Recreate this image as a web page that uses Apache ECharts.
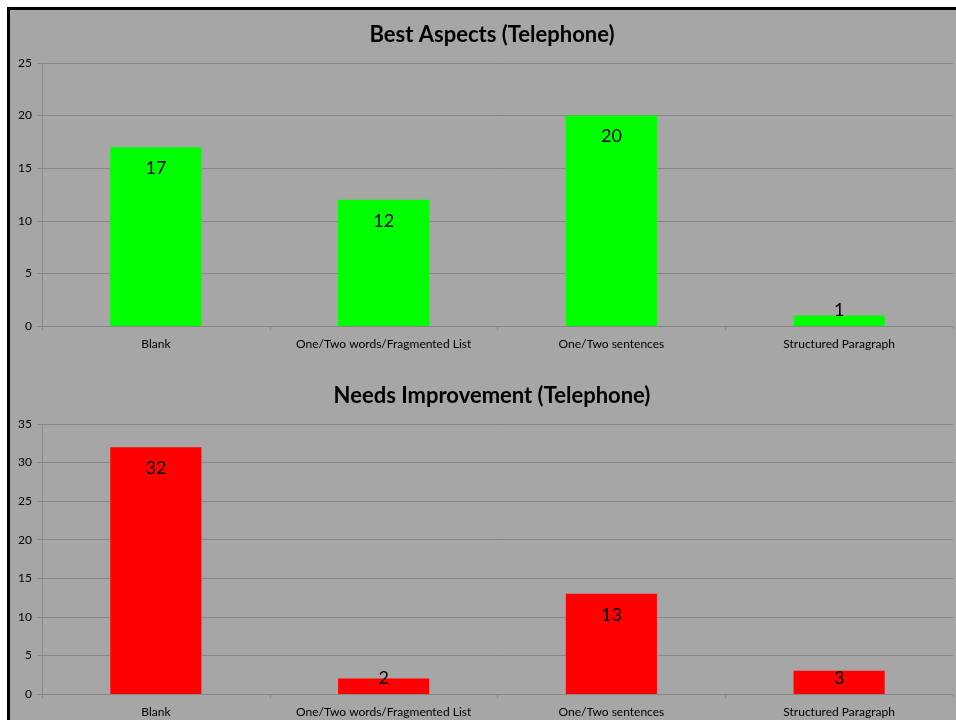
<!DOCTYPE html>
<html>
<head>
<meta charset="utf-8">
<script src="https://cdn.jsdelivr.net/npm/echarts@6/dist/echarts.min.js"></script>
<style>
  html, body { margin: 0; padding: 0; background: #ffffff; width: 956px; height: 720px; overflow: hidden; }
  #frame { position: absolute; left: 7px; top: 7px; width: 960px; height: 720px; background: #a6a6a6; border-left: 3px solid #000; border-top: 3px solid #000; }
  #chart { position: absolute; left: 0; top: 0; width: 956px; height: 720px; }
</style>
</head>
<body>
<div id="frame"></div>
<div id="chart"></div>
<script>
const categories = ["Blank", "One/Two words/Fragmented List", "One/Two sentences", "Structured Paragraph"];
const bestAspects = [17, 12, 20, 1];
const needsImprovement = [32, 2, 13, 3];
const titles = ["Best Aspects (Telephone)", "Needs Improvement (Telephone)"];

const FONT = "Lato, 'Open Sans', sans-serif";
const gridColor = "#878787";

function items(vals) {
  return vals.map(v => ({
    value: v,
    label: v < 4 ? { position: "insideBottom", distance: 7 } : { position: "insideTop", distance: 12 }
  }));
}

function xAxis(gi) {
  return {
    type: "category", gridIndex: gi, data: categories,
    axisLine: { lineStyle: { color: gridColor, width: 1 } },
    axisTick: { show: true, interval: 0, length: 4, lineStyle: { color: gridColor } },
    axisLabel: { interval: 0, color: "#000", fontSize: 12, fontFamily: FONT, margin: 12 }
  };
}
function yAxis(gi, max) {
  return {
    type: "value", gridIndex: gi, min: 0, max: max, interval: 5,
    axisLine: { show: true, lineStyle: { color: gridColor } },
    axisTick: { show: true, length: 5, lineStyle: { color: gridColor } },
    splitLine: { lineStyle: { color: gridColor, width: 1 } },
    axisLabel: { color: "#000", fontSize: 12, fontFamily: FONT, margin: 10 }
  };
}

const chart = echarts.init(document.getElementById("chart"));
chart.setOption({
  backgroundColor: "transparent",
  animation: false,
  title: [
    { text: titles[0], left: 487, top: 19, textAlign: "center",
      textStyle: { fontSize: 22, fontWeight: "bold", color: "#000", fontFamily: FONT } },
    { text: titles[1], left: 487, top: 380, textAlign: "center",
      textStyle: { fontSize: 22, fontWeight: "bold", color: "#000", fontFamily: FONT } }
  ],
  grid: [
    { left: 42, right: 3, top: 63, height: 263 },
    { left: 42, right: 3, top: 424, height: 270 }
  ],
  xAxis: [xAxis(0), xAxis(1)],
  yAxis: [yAxis(0, 25), yAxis(1, 35)],
  series: [
    { type: "bar", xAxisIndex: 0, yAxisIndex: 0, data: items(bestAspects), barWidth: "40%",
      itemStyle: { color: "#00ff00" },
      label: { show: true, color: "#000", fontSize: 18, fontFamily: FONT } },
    { type: "bar", xAxisIndex: 1, yAxisIndex: 1, data: items(needsImprovement), barWidth: "40%",
      itemStyle: { color: "#ff0000" },
      label: { show: true, color: "#000", fontSize: 18, fontFamily: FONT } }
  ]
});
</script>
</body>
</html>
